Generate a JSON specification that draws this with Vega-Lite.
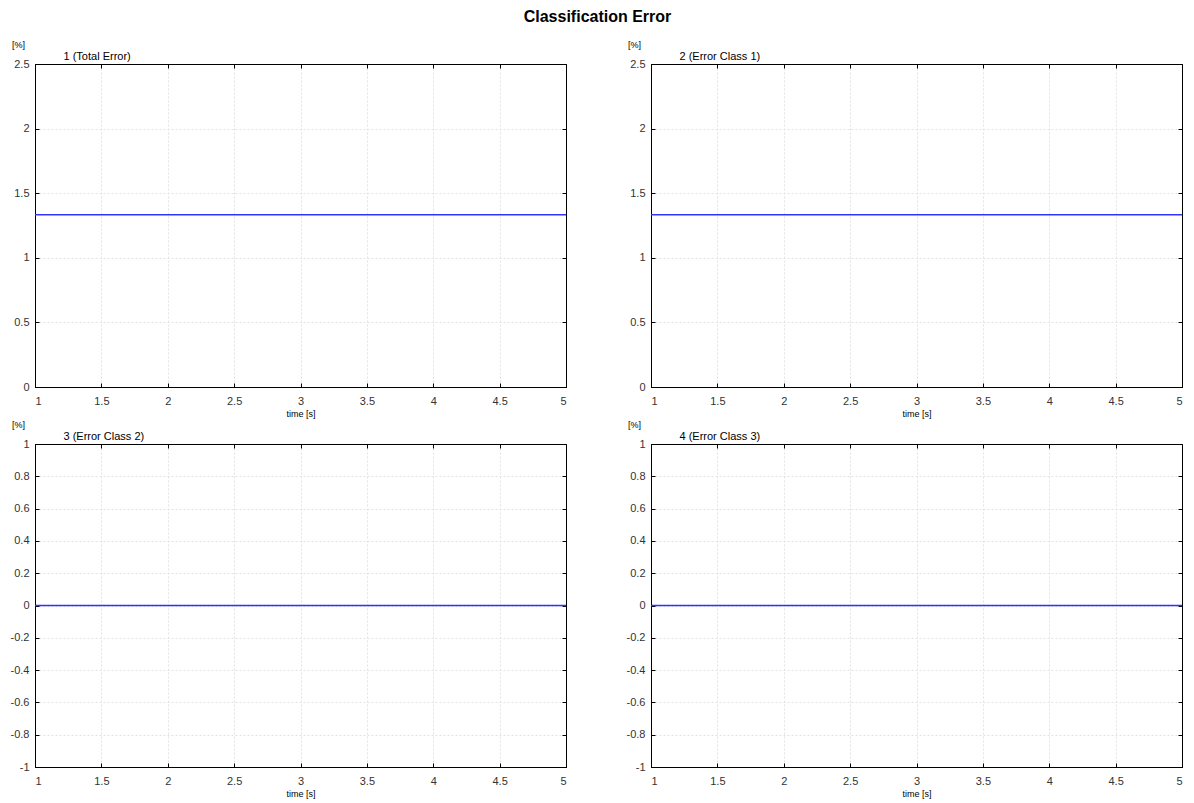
{
  "$schema": "https://vega.github.io/schema/vega-lite/v6.json",
  "padding": {"left": 9, "top": 8, "right": 13, "bottom": 5},
  "title": {"text": "Classification Error", "fontSize": 16, "fontWeight": "bold", "font": "Liberation Sans", "anchor": "middle", "offset": 15, "color": "#000"},
  "datasets": {
    "err": [
      {"panel": 1, "t": 1, "v": 1.3333}, {"panel": 1, "t": 2, "v": 1.3333}, {"panel": 1, "t": 3, "v": 1.3333}, {"panel": 1, "t": 4, "v": 1.3333}, {"panel": 1, "t": 5, "v": 1.3333},
      {"panel": 2, "t": 1, "v": 1.3333}, {"panel": 2, "t": 2, "v": 1.3333}, {"panel": 2, "t": 3, "v": 1.3333}, {"panel": 2, "t": 4, "v": 1.3333}, {"panel": 2, "t": 5, "v": 1.3333},
      {"panel": 3, "t": 1, "v": 0}, {"panel": 3, "t": 2, "v": 0}, {"panel": 3, "t": 3, "v": 0}, {"panel": 3, "t": 4, "v": 0}, {"panel": 3, "t": 5, "v": 0},
      {"panel": 4, "t": 1, "v": 0}, {"panel": 4, "t": 2, "v": 0}, {"panel": 4, "t": 3, "v": 0}, {"panel": 4, "t": 4, "v": 0}, {"panel": 4, "t": 5, "v": 0}
    ]
  },
  "columns": 2,
  "bounds": "flush",
  "spacing": {"row": 57, "column": 85},
  "concat": [
    {
      "width": 531, "height": 323,
      "data": {"name": "err"},
      "transform": [{"filter": "datum.panel == 1"}],
      "layer": [
        {"mark": {"type": "line", "color": "#3232ff", "strokeWidth": 1.5},
         "encoding": {
           "x": {"field": "t", "type": "quantitative", "scale": {"domain": [1, 5], "nice": false, "zero": false}, "axis": {"orient": "bottom", "title": "time [s]", "values": [1, 1.5, 2, 2.5, 3, 3.5, 4, 4.5, 5]}},
           "y": {"field": "v", "type": "quantitative", "scale": {"domain": [0, 2.5], "nice": false}, "axis": {"orient": "left", "title": "[%]", "values": [0, 0.5, 1, 1.5, 2, 2.5]}}
         }},
        {"mark": {"type": "line", "opacity": 0},
         "encoding": {
           "x": {"field": "t", "type": "quantitative", "axis": {"orient": "top", "labels": false, "grid": false, "title": "1 (Total Error)", "values": [1, 1.5, 2, 2.5, 3, 3.5, 4, 4.5, 5]}},
           "y": {"field": "v", "type": "quantitative", "axis": {"orient": "right", "labels": false, "grid": false, "title": null, "values": [0, 0.5, 1, 1.5, 2, 2.5]}}
         }}
      ],
      "resolve": {"axis": {"x": "independent", "y": "independent"}}
    },
    {
      "width": 531, "height": 323,
      "data": {"name": "err"},
      "transform": [{"filter": "datum.panel == 2"}],
      "layer": [
        {"mark": {"type": "line", "color": "#3232ff", "strokeWidth": 1.5},
         "encoding": {
           "x": {"field": "t", "type": "quantitative", "scale": {"domain": [1, 5], "nice": false, "zero": false}, "axis": {"orient": "bottom", "title": "time [s]", "values": [1, 1.5, 2, 2.5, 3, 3.5, 4, 4.5, 5]}},
           "y": {"field": "v", "type": "quantitative", "scale": {"domain": [0, 2.5], "nice": false}, "axis": {"orient": "left", "title": "[%]", "values": [0, 0.5, 1, 1.5, 2, 2.5]}}
         }},
        {"mark": {"type": "line", "opacity": 0},
         "encoding": {
           "x": {"field": "t", "type": "quantitative", "axis": {"orient": "top", "labels": false, "grid": false, "title": "2 (Error Class 1)", "values": [1, 1.5, 2, 2.5, 3, 3.5, 4, 4.5, 5]}},
           "y": {"field": "v", "type": "quantitative", "axis": {"orient": "right", "labels": false, "grid": false, "title": null, "values": [0, 0.5, 1, 1.5, 2, 2.5]}}
         }}
      ],
      "resolve": {"axis": {"x": "independent", "y": "independent"}}
    },
    {
      "width": 531, "height": 323,
      "data": {"name": "err"},
      "transform": [{"filter": "datum.panel == 3"}],
      "layer": [
        {"mark": {"type": "line", "color": "#3232ff", "strokeWidth": 1.5},
         "encoding": {
           "x": {"field": "t", "type": "quantitative", "scale": {"domain": [1, 5], "nice": false, "zero": false}, "axis": {"orient": "bottom", "title": "time [s]", "values": [1, 1.5, 2, 2.5, 3, 3.5, 4, 4.5, 5]}},
           "y": {"field": "v", "type": "quantitative", "scale": {"domain": [-1, 1], "nice": false}, "axis": {"orient": "left", "title": "[%]", "values": [-1, -0.8, -0.6, -0.4, -0.2, 0, 0.2, 0.4, 0.6, 0.8, 1]}}
         }},
        {"mark": {"type": "line", "opacity": 0},
         "encoding": {
           "x": {"field": "t", "type": "quantitative", "axis": {"orient": "top", "labels": false, "grid": false, "title": "3 (Error Class 2)", "values": [1, 1.5, 2, 2.5, 3, 3.5, 4, 4.5, 5]}},
           "y": {"field": "v", "type": "quantitative", "axis": {"orient": "right", "labels": false, "grid": false, "title": null, "values": [-1, -0.8, -0.6, -0.4, -0.2, 0, 0.2, 0.4, 0.6, 0.8, 1]}}
         }}
      ],
      "resolve": {"axis": {"x": "independent", "y": "independent"}}
    },
    {
      "width": 531, "height": 323,
      "data": {"name": "err"},
      "transform": [{"filter": "datum.panel == 4"}],
      "layer": [
        {"mark": {"type": "line", "color": "#3232ff", "strokeWidth": 1.5},
         "encoding": {
           "x": {"field": "t", "type": "quantitative", "scale": {"domain": [1, 5], "nice": false, "zero": false}, "axis": {"orient": "bottom", "title": "time [s]", "values": [1, 1.5, 2, 2.5, 3, 3.5, 4, 4.5, 5]}},
           "y": {"field": "v", "type": "quantitative", "scale": {"domain": [-1, 1], "nice": false}, "axis": {"orient": "left", "title": "[%]", "values": [-1, -0.8, -0.6, -0.4, -0.2, 0, 0.2, 0.4, 0.6, 0.8, 1]}}
         }},
        {"mark": {"type": "line", "opacity": 0},
         "encoding": {
           "x": {"field": "t", "type": "quantitative", "axis": {"orient": "top", "labels": false, "grid": false, "title": "4 (Error Class 3)", "values": [1, 1.5, 2, 2.5, 3, 3.5, 4, 4.5, 5]}},
           "y": {"field": "v", "type": "quantitative", "axis": {"orient": "right", "labels": false, "grid": false, "title": null, "values": [-1, -0.8, -0.6, -0.4, -0.2, 0, 0.2, 0.4, 0.6, 0.8, 1]}}
         }}
      ],
      "resolve": {"axis": {"x": "independent", "y": "independent"}}
    }
  ],
  "config": {
    "font": "Liberation Sans",
    "view": {"stroke": "#000", "strokeWidth": 1},
    "title": {"color": "#000", "font": "Liberation Sans"},
    "axis": {
      "domain": true,
      "domainColor": "#000",
      "domainWidth": 1,
      "tickSize": -4,
      "tickColor": "#000",
      "tickWidth": 1,
      "labelFontSize": 11,
      "labelColor": "#333",
      "labelPadding": 10,
      "labelExpr": "'' + datum.value",
      "gridColor": "#e2e2e2",
      "gridDash": [2, 2],
      "gridWidth": 1,
      "titleFontSize": 9,
      "titleFontWeight": "normal",
      "titleColor": "#000"
    },
    "axisBottom": {"labelPadding": 12, "titlePadding": 3},
    "axisTop": {"titleFontSize": 11, "titleX": 28, "titleY": -3, "titleAlign": "left", "titleAnchor": null, "titleBaseline": "bottom"},
    "axisLeft": {"titleAngle": 0, "titleX": -17, "titleY": -20, "titleAlign": "center", "titleBaseline": "middle"}
  }
}
